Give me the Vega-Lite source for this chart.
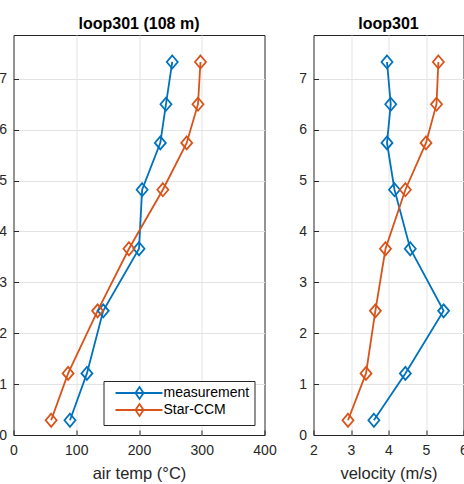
{
  "$schema": "https://vega.github.io/schema/vega-lite/v6.json",
  "padding": {"left": -2.5, "top": 15, "right": 0, "bottom": 0},
  "background": "white",
  "datasets": {
    "d": [
      {"h": 7.33, "series": "measurement", "temp": 253, "vel": 3.96},
      {"h": 6.5, "series": "measurement", "temp": 243, "vel": 4.06},
      {"h": 5.74, "series": "measurement", "temp": 234, "vel": 3.96},
      {"h": 4.82, "series": "measurement", "temp": 205, "vel": 4.16},
      {"h": 3.66, "series": "measurement", "temp": 200, "vel": 4.58},
      {"h": 2.44, "series": "measurement", "temp": 143, "vel": 5.47},
      {"h": 1.21, "series": "measurement", "temp": 117, "vel": 4.45},
      {"h": 0.29, "series": "measurement", "temp": 90, "vel": 3.61},
      {"h": 7.33, "series": "Star-CCM", "temp": 298, "vel": 5.33},
      {"h": 6.5, "series": "Star-CCM", "temp": 294, "vel": 5.28},
      {"h": 5.74, "series": "Star-CCM", "temp": 276, "vel": 5.0},
      {"h": 4.82, "series": "Star-CCM", "temp": 238, "vel": 4.45},
      {"h": 3.66, "series": "Star-CCM", "temp": 184, "vel": 3.92},
      {"h": 2.44, "series": "Star-CCM", "temp": 134, "vel": 3.65},
      {"h": 1.21, "series": "Star-CCM", "temp": 87, "vel": 3.4},
      {"h": 0.29, "series": "Star-CCM", "temp": 60, "vel": 2.92}
    ]
  },
  "config": {
    "font": "Liberation Sans",
    "view": {"stroke": "#262626", "strokeWidth": 1},
    "axis": {
      "grid": true,
      "gridColor": "#e3e3e3",
      "gridWidth": 1,
      "domain": false,
      "ticks": true,
      "tickSize": -5,
      "tickColor": "#262626",
      "labelFont": "Liberation Sans",
      "labelFontSize": 14,
      "labelColor": "#262626",
      "labelPadding": 12,
      "titleFont": "Liberation Sans",
      "titleFontSize": 16.5,
      "titleFontWeight": "normal",
      "titleColor": "#262626",
      "titlePadding": 6
    },
    "axisX": {"labelPadding": 13, "labelFlush": false, "titlePadding": 8},
    "title": {"font": "Liberation Sans", "fontSize": 16, "fontWeight": "bold", "color": "#000000", "offset": 3}
  },
  "spacing": 20,
  "resolve": {"legend": {"color": "independent"}},
  "hconcat": [
    {
      "width": 251,
      "height": 400,
      "title": "loop301 (108 m)",
      "data": {"name": "d"},
      "encoding": {
        "x": {"field": "temp", "type": "quantitative", "scale": {"domain": [0, 400], "nice": false}, "axis": {"values": [0, 100, 200, 300, 400], "title": "air temp (°C)", "gridOpacity": {"condition": {"test": "datum.value === 0 || datum.value === 400", "value": 0}, "value": 1}}},
        "y": {"field": "h", "type": "quantitative", "scale": {"domain": [0, 7.86], "nice": false}, "axis": {"values": [0, 1, 2, 3, 4, 5, 6, 7], "title": null, "gridOpacity": {"condition": {"test": "datum.value === 0", "value": 0}, "value": 1}}},
        "color": {
          "field": "series", "type": "nominal",
          "scale": {"domain": ["measurement", "Star-CCM"], "range": ["#0072BD", "#D95319"]},
          "legend": {
            "title": null,
            "orient": "none",
            "legendX": 90,
            "legendY": 346,
            "symbolType": "M0,0H7.83M4,-1L4.67,0L4,1L3.33,0Z",
            "symbolSize": 144,
            "symbolStrokeWidth": 1.8,
            "symbolFillColor": "transparent",
            "labelFontSize": 14,
            "labelColor": "#000000",
            "labelOffset": 41,
            "strokeColor": "#262626",
            "fillColor": "white",
            "padding": 5,
            "rowPadding": -4
          }
        },
        "order": {"field": "h", "type": "quantitative"}
      },
      "layer": [
        {"mark": {"type": "line", "strokeWidth": 1.8}},
        {"mark": {"type": "point", "shape": "M0,-1.3L1.1,0L0,1.3L-1.1,0Z", "size": 100, "strokeWidth": 1.8, "filled": false, "opacity": 1}}
      ]
    },
    {
      "width": 150,
      "height": 400,
      "title": "loop301",
      "data": {"name": "d"},
      "encoding": {
        "x": {"field": "vel", "type": "quantitative", "scale": {"domain": [2, 6], "nice": false}, "axis": {"values": [2, 3, 4, 5, 6], "title": "velocity (m/s)", "gridOpacity": {"condition": {"test": "datum.value === 2 || datum.value === 6", "value": 0}, "value": 1}}},
        "y": {"field": "h", "type": "quantitative", "scale": {"domain": [0, 7.86], "nice": false}, "axis": {"values": [0, 1, 2, 3, 4, 5, 6, 7], "title": null, "gridOpacity": {"condition": {"test": "datum.value === 0", "value": 0}, "value": 1}}},
        "color": {
          "field": "series", "type": "nominal",
          "scale": {"domain": ["measurement", "Star-CCM"], "range": ["#0072BD", "#D95319"]},
          "legend": null
        },
        "order": {"field": "h", "type": "quantitative"}
      },
      "layer": [
        {"mark": {"type": "line", "strokeWidth": 1.8}},
        {"mark": {"type": "point", "shape": "M0,-1.3L1.1,0L0,1.3L-1.1,0Z", "size": 100, "strokeWidth": 1.8, "filled": false, "opacity": 1}}
      ]
    }
  ]
}
